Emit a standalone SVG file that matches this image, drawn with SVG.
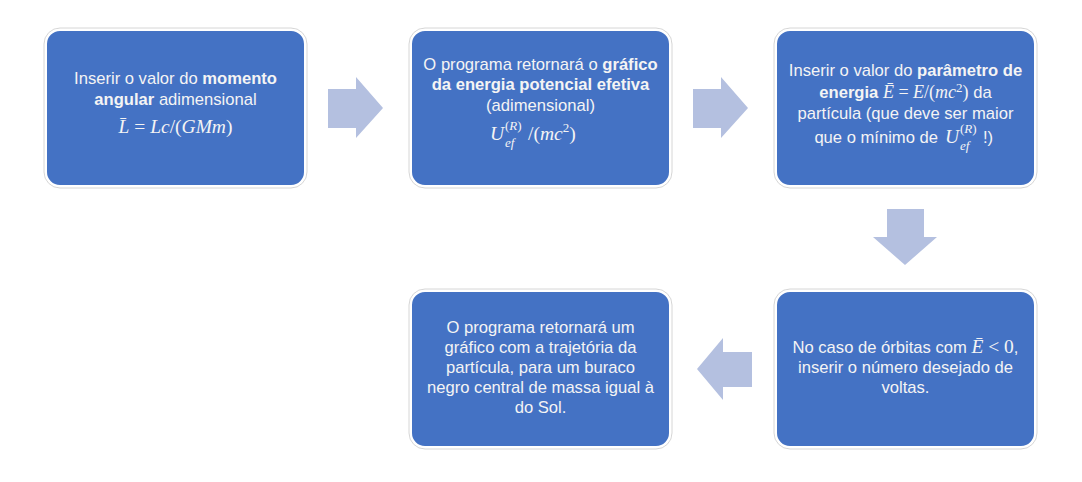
<svg xmlns="http://www.w3.org/2000/svg" width="1082" height="482" viewBox="0 0 1082 482">
<defs>
<style>
.box{fill:#4472C4;stroke:#ffffff;stroke-width:2}
.halo{fill:none;stroke:#d6d6d6;stroke-width:1}
.arrow{fill:#B4C0E0}
.t{font-family:"Liberation Sans",Arial,sans-serif;font-size:16.6px;fill:#F4F4F4;text-anchor:middle}
.b{font-weight:bold}
.m{font-family:"Liberation Serif","DejaVu Serif",serif;font-size:19.5px;font-style:italic;fill:#F4F4F4}
.mi{font-size:18px}
.mr{font-style:normal}
.s{font-size:13px}
</style>
</defs>
<rect width="1082" height="482" fill="#ffffff"/>
<g id="connectors">
<polygon class="arrow" points="328,89 356,89 356,77 383,108 356,138 356,128 328,128"/>
<polygon class="arrow" points="693,89 721,89 721,77 748,108 721,138 721,128 693,128"/>
<polygon class="arrow" points="887,209 924,209 924,237 937,237 905,265 873,237 887,237"/>
<polygon class="arrow" points="752,352 723,352 723,338 697,369 723,400 723,387 752,387"/>
</g>
<g id="node1">
<rect class="halo" x="44" y="28" width="263" height="160" rx="16"/>
<rect class="box" x="46" y="30" width="259" height="156" rx="14"/>
<text class="t" x="175.5" y="84">Inserir o valor do <tspan class="b">momento</tspan></text>
<text class="t" x="175.5" y="105"><tspan class="b">angular</tspan> adimensional</text>
<text class="m" x="175.5" y="133" text-anchor="middle">L̄<tspan class="mr"> = </tspan>Lc<tspan class="mr">/(</tspan>GMm<tspan class="mr">)</tspan></text>
</g>
<g id="node2">
<rect class="halo" x="409" y="28" width="263" height="160" rx="16"/>
<rect class="box" x="411" y="30" width="259" height="156" rx="14"/>
<text class="t" x="540.5" y="70">O programa retornará o <tspan class="b">gráfico</tspan></text>
<text class="t b" x="540.5" y="90">da energia potencial efetiva</text>
<text class="t" x="540.5" y="111">(adimensional)</text>
<text class="m" x="490" y="140">U</text>
<text class="m s mr" x="505" y="130">(<tspan font-style="italic">R</tspan>)</text>
<text class="m s" x="505" y="147">ef</text>
<text class="m mr" x="528" y="140">/(<tspan font-style="italic">mc</tspan><tspan class="s" dy="-8">2</tspan><tspan dy="8">)</tspan></text>
</g>
<g id="node3">
<rect class="halo" x="774" y="28" width="263" height="160" rx="16"/>
<rect class="box" x="776" y="30" width="259" height="156" rx="14"/>
<text class="t" x="905.5" y="76">Inserir o valor do <tspan class="b">parâmetro de</tspan></text>
<text class="t" x="905.5" y="98"><tspan class="b">energia</tspan> <tspan class="m mi">Ē</tspan><tspan class="m mi mr"> = </tspan><tspan class="m mi">E</tspan><tspan class="m mi mr">/(</tspan><tspan class="m mi">mc</tspan><tspan class="m mr s" dy="-6">2</tspan><tspan class="m mi mr" dy="6">)</tspan> da</text>
<text class="t" x="905.5" y="119">partícula (que deve ser maior</text>
<text class="t" x="938" y="143" style="text-anchor:end">que o mínimo de</text>
<text class="m" x="945" y="143">U</text>
<text class="m s mr" x="960" y="133">(<tspan font-style="italic">R</tspan>)</text>
<text class="m s" x="960" y="150">ef</text>
<text class="t" x="983" y="143" style="text-anchor:start">!)</text>
</g>
<g id="node4">
<rect class="halo" x="409" y="289" width="263" height="160" rx="16"/>
<rect class="box" x="411" y="291" width="259" height="156" rx="14"/>
<text class="t" x="540.5" y="333">O programa retornará um</text>
<text class="t" x="540.5" y="353">gráfico com a trajetória da</text>
<text class="t" x="540.5" y="373">partícula, para um buraco</text>
<text class="t" x="540.5" y="393">negro central de massa igual à</text>
<text class="t" x="540.5" y="413">do Sol.</text>
</g>
<g id="node5">
<rect class="halo" x="774" y="289" width="263" height="160" rx="16"/>
<rect class="box" x="776" y="291" width="259" height="156" rx="14"/>
<text class="t" x="905.5" y="353">No caso de órbitas com <tspan class="m">Ē</tspan><tspan class="m mr"> &lt; 0</tspan>,</text>
<text class="t" x="905.5" y="373">inserir o número desejado de</text>
<text class="t" x="905.5" y="393">voltas.</text>
</g>
</svg>
